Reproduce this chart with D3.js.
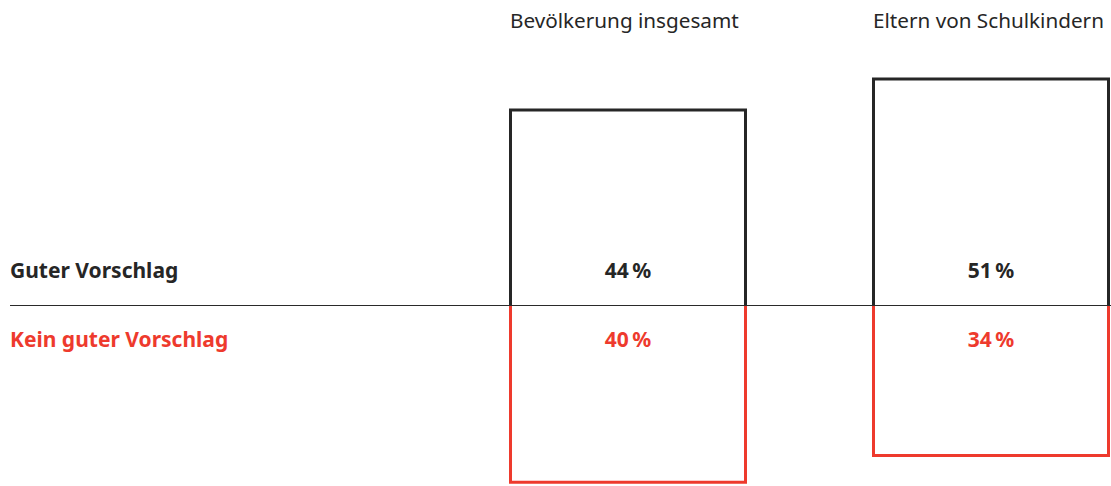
<!DOCTYPE html>
<html>
<head>
<meta charset="utf-8">
<script src="https://cdn.jsdelivr.net/npm/d3@7"></script>
<style>
  body { margin: 0; background: #fff; }
  text { font-family: "Noto Sans", sans-serif; }
</style>
</head>
<body>
<svg id="chart" width="1111" height="486"></svg>
<script>
// survey groups and answers (percent)
var groups = ["Bevölkerung insgesamt", "Eltern von Schulkindern"];
var answers = ["Guter Vorschlag", "Kein guter Vorschlag"];
var goodValues = [44, 51];
var notGoodValues = [40, 34];

var black = "#262626",
    red = "#ee3a2d";

var svg = d3.select("#chart"),
    baseline = 305;

// column positions
var x = d3.scaleBand()
    .domain(groups)
    .range([510.5, 1108.5])
    .paddingInner(0.3526)
    .paddingOuter(0);

// percent -> pixel length
var h = d3.scaleLinear().domain([0, 100]).range([0, 443]);

// open boxes: upper one has no bottom edge, lower one has no top edge
function upBox(x0, w, len) {
  var p = d3.path();
  p.moveTo(x0, baseline);
  p.lineTo(x0, baseline - len);
  p.lineTo(x0 + w, baseline - len);
  p.lineTo(x0 + w, baseline);
  return p.toString();
}
function downBox(x0, w, len) {
  var p = d3.path();
  p.moveTo(x0, baseline);
  p.lineTo(x0, baseline + len);
  p.lineTo(x0 + w, baseline + len);
  p.lineTo(x0 + w, baseline);
  return p.toString();
}

var col = svg.selectAll(".col")
    .data(groups)
    .enter()
    .append("g")
    .attr("class", "col");

col.append("path")
    .attr("d", function(d, i) { return upBox(x(d), x.bandwidth(), h(goodValues[i])); })
    .attr("fill", "none")
    .attr("stroke", black)
    .attr("stroke-width", 3)
    .attr("stroke-linejoin", "miter");

col.append("path")
    .attr("d", function(d, i) { return downBox(x(d), x.bandwidth(), h(notGoodValues[i])); })
    .attr("fill", "none")
    .attr("stroke", red)
    .attr("stroke-width", 3)
    .attr("stroke-linejoin", "miter");

// zero line, drawn crisp on one pixel row
svg.append("line")
    .attr("x1", 10).attr("x2", 1111)
    .attr("y1", baseline + 0.5).attr("y2", baseline + 0.5)
    .attr("stroke", "#2a2a2a")
    .attr("stroke-width", 1.2);

// row labels on the left
svg.selectAll(".row-label")
    .data(answers)
    .enter()
    .append("text")
    .attr("class", "row-label")
    .attr("x", 10)
    .attr("y", function(d, i) { return i == 0 ? baseline - 27 : baseline + 42; })
    .attr("fill", function(d, i) { return i == 0 ? black : red; })
    .attr("font-size", 21)
    .attr("font-weight", "bold")
    .text(function(d) { return d; });

// column headers, left aligned with the boxes
svg.selectAll(".col-label")
    .data(groups)
    .enter()
    .append("text")
    .attr("class", "col-label")
    .attr("x", function(d) { return x(d) - 0.5; })
    .attr("y", 28)
    .attr("fill", black)
    .attr("font-size", 20.7)
    .text(function(d) { return d; });

col.append("text")
    .attr("x", function(d) { return x(d) + x.bandwidth() / 2; })
    .attr("y", baseline - 27)
    .attr("text-anchor", "middle")
    .attr("fill", black)
    .attr("font-size", 21)
    .attr("font-weight", "bold")
    .text(function(d, i) { return goodValues[i] + "\u2009%"; });

col.append("text")
    .attr("x", function(d) { return x(d) + x.bandwidth() / 2; })
    .attr("y", baseline + 42)
    .attr("text-anchor", "middle")
    .attr("fill", red)
    .attr("font-size", 21)
    .attr("font-weight", "bold")
    .text(function(d, i) { return notGoodValues[i] + "\u2009%"; });
</script>
</body>
</html>
